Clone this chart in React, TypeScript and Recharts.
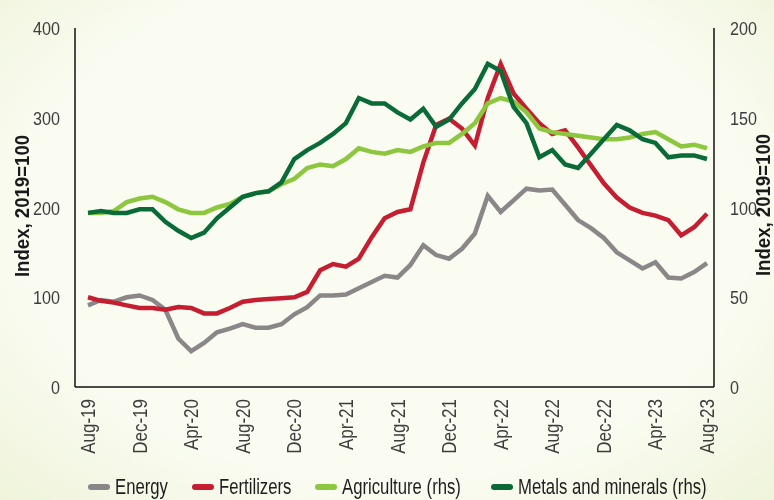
import React from 'react';
import { LineChart, Line, XAxis, YAxis } from 'recharts';

const months = [
  'Aug-19', 'Sep-19', 'Oct-19', 'Nov-19', 'Dec-19', 'Jan-20', 'Feb-20', 'Mar-20',
  'Apr-20', 'May-20', 'Jun-20', 'Jul-20', 'Aug-20', 'Sep-20', 'Oct-20', 'Nov-20',
  'Dec-20', 'Jan-21', 'Feb-21', 'Mar-21', 'Apr-21', 'May-21', 'Jun-21', 'Jul-21',
  'Aug-21', 'Sep-21', 'Oct-21', 'Nov-21', 'Dec-21', 'Jan-22', 'Feb-22', 'Mar-22',
  'Apr-22', 'May-22', 'Jun-22', 'Jul-22', 'Aug-22', 'Sep-22', 'Oct-22', 'Nov-22',
  'Dec-22', 'Jan-23', 'Feb-23', 'Mar-23', 'Apr-23', 'May-23', 'Jun-23', 'Jul-23',
  'Aug-23',
];

// left axis
const energy = [
  91, 97, 95, 100, 102, 97, 86, 54, 40, 49, 61, 65, 70, 66, 66, 70,
  81, 89, 102, 102, 103, 110, 117, 124, 122, 136, 158, 147, 143, 154, 171, 213,
  195, 208, 221, 219, 220, 203, 186, 177, 166, 150, 141, 132, 139, 122, 121, 128,
  138,
];
const fertilizers = [
  100, 96, 94, 91, 88, 88, 86, 89, 88, 82, 82, 88, 95, 97, 98, 99,
  100, 106, 130, 137, 134, 143, 167, 188, 195, 198, 250, 292, 299, 288, 269, 322,
  360, 327, 310, 294, 282, 286, 267, 247, 227, 211, 200, 194, 191, 186, 169, 178,
  193,
];
// right axis
const agriculture = [
  97, 97, 98, 103, 105, 106, 103, 99, 97, 97, 100, 102, 106, 108, 109, 113,
  116, 122, 124, 123, 127, 133, 131, 130, 132, 131, 134, 136, 136, 141, 147, 158,
  161, 159, 153, 144, 142, 141, 140, 139, 138, 138, 139, 141, 142, 138, 134, 135,
  133,
];
const metals = [
  97, 98, 97, 97, 99, 99, 92, 87, 83, 86, 94, 100, 106, 108, 109, 114,
  127, 132, 136, 141, 147, 161, 158, 158, 153, 149, 155, 145, 149, 158, 166, 180,
  176, 156, 147, 128, 132, 124, 122, 130, 138, 146, 143, 138, 136, 128, 129, 129,
  127,
];

const leftTicks = [0, 100, 200, 300, 400];
const rightTicks = [0, 50, 100, 150, 200];

const data = months.map((month, i) => ({
  month,
  energy: energy[i],
  fertilizers: fertilizers[i],
  agriculture: agriculture[i],
  metals: metals[i],
}));

const FONT = '"Liberation Sans", Arial, sans-serif';

const legendItems = [
  { label: 'Energy', color: '#8b8788', x: 88 },
  { label: 'Fertilizers', color: '#c41e30', x: 192 },
  { label: 'Agriculture (rhs)', color: '#8dc63f', x: 315 },
  { label: 'Metals and minerals (rhs)', color: '#0b6b38', x: 491 },
];

const MonthTick = (props: any) => {
  const { x, y, payload } = props;
  return (
    <g transform={`translate(${x}, ${y + 4}) rotate(-90) scale(0.85, 1)`}>
      <text x={0} y={0} dy={7} textAnchor="end" fontSize={20} fill="#3d3d3d" fontFamily={FONT}>
        {payload.value}
      </text>
    </g>
  );
};

const ValueTick = (props: any) => {
  const { x, y, payload, side } = props;
  const dx = side === 'left' ? -7 : 8;
  return (
    <g transform={`translate(${x + dx}, ${y}) scale(0.85, 1)`}>
      <text
        x={0}
        y={0}
        dy={7}
        textAnchor={side === 'left' ? 'end' : 'start'}
        fontSize={19}
        fill="#3d3d3d"
        fontFamily={FONT}
      >
        {payload.value}
      </text>
    </g>
  );
};

const axisTitle = (left: number, top: number): React.CSSProperties => ({
  position: 'absolute',
  left,
  top,
  transform: 'translate(-50%, -50%) rotate(-90deg) scaleX(0.93)',
  fontFamily: FONT,
  fontWeight: 700,
  fontSize: 20,
  lineHeight: '18px',
  color: '#1a1a1a',
  whiteSpace: 'nowrap',
});

export default function App() {
  return (
    <div
      style={{
        position: 'fixed',
        left: 0,
        top: 0,
        width: 774,
        height: 500,
        background: 'radial-gradient(ellipse at 50% 45%, #fafcf2 65%, #eff4da 100%)',
        overflow: 'hidden',
      }}
    >
      <LineChart
        width={774}
        height={500}
        data={data}
        margin={{ top: 28, right: 10, bottom: 35, left: 25 }}
      >
        <XAxis
          dataKey="month"
          interval={3}
          tick={<MonthTick />}
          tickLine={false}
          axisLine={{ stroke: '#111', strokeWidth: 1.5 }}
          padding={{ left: 13, right: 7 }}
          height={78}
        />
        <YAxis
          yAxisId="left"
          domain={[0, 400]}
          ticks={leftTicks}
          tickLine={false}
          axisLine={{ stroke: '#111', strokeWidth: 1.5 }}
          tick={<ValueTick side="left" />}
          width={50}
        />
        <YAxis
          yAxisId="right"
          orientation="right"
          domain={[0, 200]}
          ticks={rightTicks}
          tickLine={false}
          axisLine={{ stroke: '#111', strokeWidth: 1.5 }}
          tick={<ValueTick side="right" />}
          width={50}
        />
        <Line yAxisId="left" dataKey="energy" stroke="#8b8788" strokeWidth={4.5} dot={false} isAnimationActive={false} type="linear" />
        <Line yAxisId="left" dataKey="fertilizers" stroke="#c41e30" strokeWidth={4.5} dot={false} isAnimationActive={false} type="linear" />
        <Line yAxisId="right" dataKey="agriculture" stroke="#8dc63f" strokeWidth={4.5} dot={false} isAnimationActive={false} type="linear" />
        <Line yAxisId="right" dataKey="metals" stroke="#0b6b38" strokeWidth={4.5} dot={false} isAnimationActive={false} type="linear" />
      </LineChart>

      <div style={axisTitle(22, 206)}>Index, 2019=100</div>
      <div style={axisTitle(763, 205)}>Index, 2019=100</div>

      {legendItems.map((item) => (
        <div
          key={item.label}
          style={{
            position: 'absolute',
            left: item.x,
            top: 474,
            height: 26,
            display: 'flex',
            alignItems: 'center',
            fontFamily: FONT,
            fontSize: 22,
            color: '#1e1e1e',
            whiteSpace: 'nowrap',
          }}
        >
          <span
            style={{
              display: 'inline-block',
              width: 22,
              height: 6,
              borderRadius: 3,
              background: item.color,
              marginRight: 5,
            }}
          />
          <span style={{ display: 'inline-block', transform: 'scaleX(0.76)', transformOrigin: 'left center' }}>
            {item.label}
          </span>
        </div>
      ))}
    </div>
  );
}
